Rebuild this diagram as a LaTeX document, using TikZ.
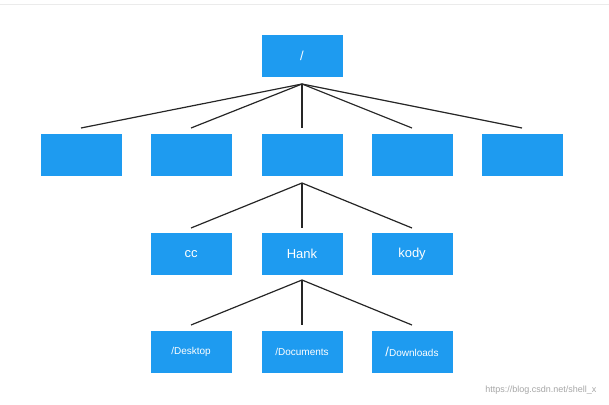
\documentclass[tikz,border=0pt]{standalone}
\usepackage{fontspec}
\setmainfont{Liberation Sans}
\definecolor{bx}{HTML}{1E9BF0}
\begin{document}
\begin{tikzpicture}[x=1pt,y=-1pt,
  box/.style={fill=bx,draw=none,minimum width=81pt,minimum height=42pt,text=white,font=\fontsize{13}{15}\selectfont,inner sep=0pt},
  sbox/.style={box,font=\fontsize{10}{12}\selectfont},
  ln/.style={line width=1.2pt,black!85}]
\useasboundingbox (0,0) rectangle (609,404);
\draw[black!8] (0,4) -- (609,4);
\node[box] (root) at (302,56) {/};
\foreach \n/\x/\t in {bin/81//bin,etc/191//etc,home/302//home,lib/412//lib,usr/522//usr}
  {\node[box] (\n) at (\x,155) {\t}; \coordinate (\n t) at (\x,128);}
\coordinate (rb) at (302,84);
\foreach \n in {bin,etc,home,lib,usr} \draw[ln] (rb) -- (\n t);
\foreach \n/\x/\t in {cc/191/cc,hank/302/Hank,kody/412/kody}
  {\node[box] (\n) at (\x,254) {\t}; \coordinate (\n t) at (\x,228);}
\coordinate (hb) at (302,183);
\foreach \n in {cc,hank,kody} \draw[ln] (hb) -- (\n t);
\node[sbox] (desk) at (191,352) {/Desktop};
\node[sbox] (docs) at (302,352) {/Documents};
\node[sbox] (down) at (412,352) {{\fontsize{13}{15}\selectfont/}Downloads};
\coordinate (deskt) at (191,325);
\coordinate (docst) at (302,325);
\coordinate (downt) at (412,325);
\coordinate (kb) at (302,280);
\foreach \n in {desk,docs,down} \draw[ln] (kb) -- (\n t);
\node[text=black!35,font=\fontsize{9}{11}\selectfont,anchor=east] (wm) at (600,390) {https://blog.csdn.net/shell\_x};
\end{tikzpicture}
\end{document}
